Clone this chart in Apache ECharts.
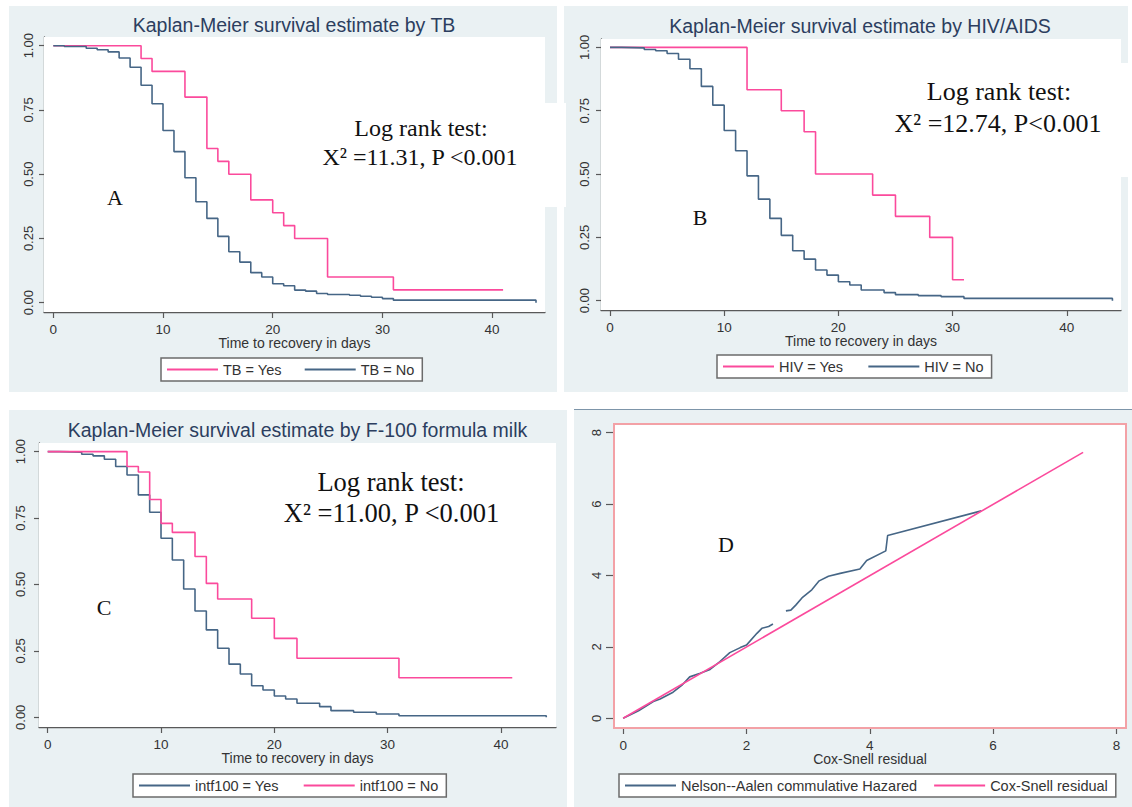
<!DOCTYPE html>
<html>
<head>
<meta charset="utf-8">
<script src="https://cdn.jsdelivr.net/npm/echarts@6/dist/echarts.min.js"></script>
<style>
  html, body { margin: 0; padding: 0; background: #fff; }
  #main { width: 1132px; height: 807px; }
</style>
</head>
<body>
<div id="main"></div>
<script>
// A: Kaplan-Meier by TB
var tbYesTime = [0, 8, 9, 12, 14, 15, 16, 18, 20, 21, 22, 25, 31, 41];
var tbYesSurv = [1, 0.95, 0.90, 0.80, 0.60, 0.55, 0.50, 0.40, 0.35, 0.30, 0.25, 0.10, 0.05, 0.05];
var tbNoTime = [0, 1, 3, 4, 5, 6, 7, 8, 9, 10, 11, 12, 13, 14, 15, 16, 17, 18, 19, 20, 21, 22, 23, 24, 25, 27, 28, 29, 30, 31, 44];
var tbNoSurv = [1, 0.997, 0.99, 0.984, 0.976, 0.952, 0.916, 0.846, 0.774, 0.670, 0.588, 0.486, 0.393, 0.328, 0.258, 0.198, 0.158, 0.117, 0.100, 0.074, 0.066, 0.049, 0.045, 0.036, 0.032, 0.029, 0.025, 0.021, 0.016, 0.010, 0];

// B: Kaplan-Meier by HIV/AIDS
var hivYesTime = [0, 12, 15, 17, 18, 23, 25, 28, 30, 31];
var hivYesSurv = [1, 0.833, 0.75, 0.667, 0.5, 0.417, 0.333, 0.25, 0.083, 0.083];
var hivNoTime = [0, 1, 3, 4, 5, 6, 7, 8, 9, 10, 11, 12, 13, 14, 15, 16, 17, 18, 19, 20, 21, 22, 24, 25, 27, 29, 31, 44];
var hivNoSurv = [1, 0.998, 0.992, 0.987, 0.976, 0.953, 0.916, 0.846, 0.772, 0.672, 0.592, 0.493, 0.401, 0.325, 0.258, 0.197, 0.164, 0.121, 0.101, 0.075, 0.062, 0.042, 0.032, 0.024, 0.020, 0.016, 0.009, 0];

// C: Kaplan-Meier by F-100 formula milk
var f100YesTime = [0, 1, 3, 4, 5, 6, 7, 8, 9, 10, 11, 12, 13, 14, 15, 16, 17, 18, 19, 20, 21, 22, 24, 25, 27, 29, 31, 44];
var f100YesSurv = [1, 0.998, 0.99, 0.984, 0.971, 0.944, 0.912, 0.837, 0.772, 0.674, 0.592, 0.483, 0.40, 0.329, 0.26, 0.20, 0.163, 0.119, 0.103, 0.080, 0.069, 0.053, 0.040, 0.025, 0.019, 0.0125, 0.006, 0];
var f100NoTime = [0, 7, 8, 9, 10, 11, 13, 14, 15, 18, 20, 22, 31, 41];
var f100NoSurv = [1, 0.944, 0.923, 0.82, 0.73, 0.696, 0.605, 0.504, 0.445, 0.373, 0.297, 0.222, 0.149, 0.149];

// D: Cox-Snell residuals vs Nelson-Aalen cumulative hazard (null = gap)
var naResid = [0, 0.25, 0.49, 0.6, 0.81, 0.95, 1.08, 1.25, 1.41, 1.57, 1.73, 1.9, 2.0, 2.17, 2.25, 2.36, 2.43, null, 2.64, 2.72, 2.8, 2.9, 3.06, 3.18, 3.33, 3.52, 3.84, 3.95, 4.26, 4.29, 5.81];
var naHazard = [0, 0.21, 0.47, 0.54, 0.73, 0.92, 1.16, 1.26, 1.37, 1.59, 1.84, 1.98, 2.05, 2.38, 2.52, 2.57, 2.64, null, 3.01, 3.03, 3.17, 3.37, 3.60, 3.85, 3.98, 4.06, 4.18, 4.42, 4.69, 5.12, 5.81];
var csResid = [0, 7.46];
var csLine = [0, 7.45];

var dayTicks = [0, 10, 20, 30, 40];
var survTicks = [0, 0.25, 0.5, 0.75, 1];
var residTicks = [0, 2, 4, 6, 8];

var PINK = '#fb4a9c';
var BLUE = '#466686';
var AXIS = '#595959';
var LABEL = '#333333';
var TITLE = '#2c3e5f';
var BG = '#eaf1f3';
var SANS = '"Liberation Sans", Arial, sans-serif';
var SERIF = '"Liberation Serif", "Times New Roman", serif';

function pairs(xs, ys) {
  return xs.map(function (x, i) { return x === null ? [null, null] : [x, ys[i]]; });
}

function xAxisFor(idx, min, max, ticks, name) {
  return {
    type: 'value', gridIndex: idx, min: min, max: max,
    axisLine: { show: idx !== 3, onZero: false, lineStyle: { color: AXIS, width: 1.3 } },
    axisTick: { show: true, customValues: ticks, length: 6, lineStyle: { color: AXIS, width: 1.2 } },
    axisLabel: { customValues: ticks, fontSize: 13.5, color: LABEL, margin: 10, fontFamily: SANS },
    splitLine: { show: false },
    name: name, nameLocation: 'middle', nameGap: 24, nameMoveOverlap: false,
    nameTextStyle: { fontSize: 14, color: LABEL, fontFamily: SANS }
  };
}

function yAxisFor(idx, min, max, ticks, fmt, tickLen, margin) {
  return {
    type: 'value', gridIndex: idx, min: min, max: max,
    axisLine: { show: idx !== 3, onZero: false, lineStyle: { color: AXIS, width: 1.3 } },
    axisTick: { show: true, customValues: ticks, length: tickLen, lineStyle: { color: AXIS, width: 1.2 } },
    axisLabel: { customValues: ticks, rotate: 90, fontSize: 13, color: LABEL, margin: margin, fontFamily: SANS, formatter: fmt },
    splitLine: { show: true, lineStyle: { color: '#e9f1f2', width: 1.5 } }
  };
}

function kmSeries(name, idx, xs, ys, color) {
  return {
    type: 'line', name: name, xAxisIndex: idx, yAxisIndex: idx,
    data: pairs(xs, ys), step: 'end', symbol: 'none', showSymbol: false,
    color: color, lineStyle: { color: color, width: 1.6 }, z: 3
  };
}

function legendFor(names, left, top, gap) {
  return {
    data: names, left: left, top: top, orient: 'horizontal',
    icon: 'rect', itemWidth: 51, itemHeight: 2, itemGap: gap,
    padding: [4, 8, 4, 6], borderColor: '#6b6b6b', borderWidth: 1.5,
    backgroundColor: '#fff', selectedMode: false,
    textStyle: { fontSize: 14.5, color: LABEL, fontFamily: SANS }
  };
}

function txt(x, y, s, size, font, color) {
  return {
    type: 'text', x: x, y: y, z: 5, silent: true,
    style: { text: s, fontSize: size, fontFamily: font, fill: color, align: 'center', verticalAlign: 'middle' }
  };
}

function box(x, y, w, h, fill, z) {
  return { type: 'rect', z: z, silent: true, shape: { x: x, y: y, width: w, height: h }, style: { fill: fill } };
}

var fmt2 = function (v) { return v.toFixed(2); };
var fmt0 = function (v) { return String(v); };

var option = {
  backgroundColor: '#ffffff',
  animation: false,
  textStyle: { fontFamily: SANS },
  grid: [
    { left: 44, top: 37, width: 501, height: 275, show: true, backgroundColor: '#fff', borderWidth: 0, z: 1 },
    { left: 601, top: 39, width: 520, height: 271, show: true, backgroundColor: '#fff', borderWidth: 0, z: 1 },
    { left: 39, top: 443, width: 517, height: 284, show: true, backgroundColor: '#fff', borderWidth: 0, z: 1 },
    { left: 614, top: 424, width: 512, height: 304, show: true, backgroundColor: '#fff', borderColor: '#f3a1a6', borderWidth: 2, z: 1 }
  ],
  xAxis: [
    xAxisFor(0, -0.848, 44.82, dayTicks, 'Time to recovery in days'),
    xAxisFor(1, -0.788, 44.75, dayTicks, 'Time to recovery in days'),
    xAxisFor(2, -0.768, 44.86, dayTicks, 'Time to recovery in days'),
    xAxisFor(3, -0.148, 8.156, residTicks, 'Cox-Snell residual')
  ],
  yAxis: [
    yAxisFor(0, -0.0362, 1.0339, survTicks, fmt2, 5, 9),
    yAxisFor(1, -0.0367, 1.0332, survTicks, fmt2, 5, 10),
    yAxisFor(2, -0.0365, 1.0324, survTicks, fmt2, 5, 12),
    yAxisFor(3, -0.272, 8.244, residTicks, fmt0, 8, 11)
  ],
  legend: [
    legendFor(['TB = Yes', 'TB = No'], 161, 358, 23),
    legendFor(['HIV = Yes', 'HIV = No'], 717, 355, 25),
    legendFor(['intf100 = Yes', 'intf100 = No'], 133, 774, 25),
    legendFor(['Nelson--Aalen commulative Hazared', 'Cox-Snell residual'], 619, 774, 17)
  ],
  series: [
    kmSeries('TB = Yes', 0, tbYesTime, tbYesSurv, PINK),
    kmSeries('TB = No', 0, tbNoTime, tbNoSurv, BLUE),
    kmSeries('HIV = Yes', 1, hivYesTime, hivYesSurv, PINK),
    kmSeries('HIV = No', 1, hivNoTime, hivNoSurv, BLUE),
    kmSeries('intf100 = Yes', 2, f100YesTime, f100YesSurv, BLUE),
    kmSeries('intf100 = No', 2, f100NoTime, f100NoSurv, PINK),
    {
      type: 'line', name: 'Nelson--Aalen commulative Hazared', xAxisIndex: 3, yAxisIndex: 3,
      data: pairs(naResid, naHazard), symbol: 'none', showSymbol: false, connectNulls: false,
      color: BLUE, lineStyle: { color: BLUE, width: 1.6 }, z: 3
    },
    {
      type: 'line', name: 'Cox-Snell residual', xAxisIndex: 3, yAxisIndex: 3,
      data: pairs(csResid, csLine), symbol: 'none', showSymbol: false,
      color: PINK, lineStyle: { color: PINK, width: 1.6 }, z: 4
    }
  ],
  graphic: [
    // panel backgrounds (Stata graph region)
    box(9, 6, 548, 386, BG, -10),
    box(564, 6, 564, 386, BG, -10),
    box(9, 410, 558, 397, BG, -10),
    box(574, 409, 558, 398, BG, -10),
    { type: 'line', z: -9, silent: true, shape: { x1: 574, y1: 409.5, x2: 1132, y2: 409.5 }, style: { stroke: '#7d95a9', lineWidth: 1 } },
    // white boxes behind the pasted annotations
    box(276, 103, 290, 104, '#fff', 2),
    box(57, 185, 116, 65, '#fff', 2),
    box(870, 63, 262, 114, '#fff', 2),
    box(642, 200, 117, 45, '#fff', 2),
    box(251, 458, 282, 86, '#fff', 2),
    box(47, 615, 116, 48, '#fff', 2),
    box(668, 520, 118, 100, '#fff', 2),
    // titles
    txt(294, 25, 'Kaplan-Meier survival estimate by TB', 19.5, SANS, TITLE),
    txt(860, 26, 'Kaplan-Meier survival estimate by HIV/AIDS', 19.5, SANS, TITLE),
    txt(297.5, 430, 'Kaplan-Meier survival estimate by F-100 formula milk', 19.5, SANS, TITLE),
    // log rank annotations
    txt(421, 128, 'Log rank test:', 24, SERIF, '#111'),
    txt(420, 157, 'X\u00B2 =11.31, P <0.001', 24, SERIF, '#111'),
    txt(999, 91, 'Log rank test:', 26, SERIF, '#111'),
    txt(998, 123, 'X\u00B2 =12.74, P<0.001', 26, SERIF, '#111'),
    txt(391, 482, 'Log rank test:', 26.5, SERIF, '#111'),
    txt(391.5, 513, 'X\u00B2 =11.00, P <0.001', 26.5, SERIF, '#111'),
    // panel letters
    txt(115, 197, 'A', 22, SERIF, '#111'),
    txt(700, 217, 'B', 22, SERIF, '#111'),
    txt(104, 607, 'C', 22, SERIF, '#111'),
    txt(726, 544, 'D', 22, SERIF, '#111')
  ]
};

var myChart = echarts.init(document.getElementById('main'), null, { renderer: 'svg' });
myChart.setOption(option);
window.addEventListener('resize', function () {
  myChart.resize();
});
</script>
</body>
</html>
